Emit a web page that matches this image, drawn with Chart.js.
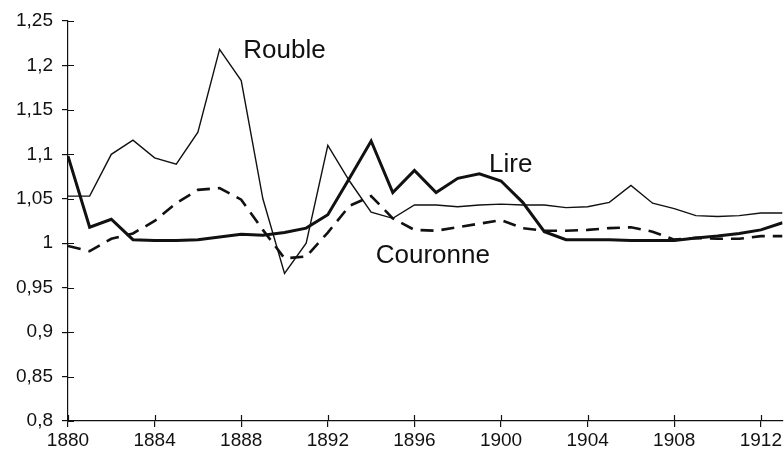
<!DOCTYPE html>
<html>
<head>
<meta charset="utf-8">
<script src="https://cdn.jsdelivr.net/npm/chart.js@4.4.1/dist/chart.umd.min.js"></script>
<style>
  html, body { margin: 0; padding: 0; background: #fff; }
  #wrap { width: 784px; height: 451px; }
</style>
</head>
<body>
<div id="wrap"><canvas id="chart"></canvas></div>
<script>
const years = [];
for (let y = 1880; y <= 1913; y++) years.push(y);
const tickYears = years.filter((y) => (y - 1880) % 4 === 0);

const rouble = [1.053, 1.053, 1.100, 1.116, 1.096, 1.089, 1.125, 1.218, 1.183, 1.050,
  0.966, 1.000, 1.110, 1.070, 1.035, 1.028, 1.043, 1.043, 1.041, 1.043,
  1.044, 1.043, 1.043, 1.040, 1.041, 1.046, 1.065, 1.045, 1.039, 1.031,
  1.030, 1.031, 1.034, 1.034];

const lire = [1.098, 1.018, 1.027, 1.004, 1.003, 1.003, 1.004, 1.007, 1.010, 1.009,
  1.012, 1.017, 1.032, 1.073, 1.115, 1.057, 1.082, 1.057, 1.073, 1.078,
  1.070, 1.046, 1.013, 1.004, 1.004, 1.004, 1.003, 1.003, 1.003, 1.006,
  1.008, 1.011, 1.015, 1.023];

const couronne = [0.997, 0.991, 1.005, 1.011, 1.025, 1.045, 1.060, 1.062, 1.049, 1.015,
  0.983, 0.985, 1.012, 1.042, 1.053, 1.028, 1.015, 1.014, 1.018, 1.022,
  1.026, 1.017, 1.014, 1.014, 1.015, 1.017, 1.018, 1.013, 1.004, 1.006,
  1.005, 1.005, 1.008, 1.008];

// series names written on the chart, placed in data units (baseline)
const seriesLabels = [
  { text: "Rouble", x: 1890.0, y: 1.208 },
  { text: "Lire", x: 1900.45, y: 1.080 },
  { text: "Couronne", x: 1896.85, y: 0.978 }
];

const ink = "#111";
const fontFamily = "'Liberation Sans', Arial, Helvetica, sans-serif";

function points(vals) {
  return years.map((yr, i) => ({ x: yr, y: vals[i] }));
}

// ticks crossing the axes (inner half) + series names
const crossTicks = {
  id: "crossTicks",
  afterDraw(chart) {
    const ctx = chart.ctx;
    const xs = chart.scales.x, ys = chart.scales.y;
    ctx.save();
    ctx.strokeStyle = ink;
    ctx.lineWidth = 1.2;
    ctx.beginPath();
    ys.ticks.forEach((t) => {
      const py = Math.round(ys.getPixelForValue(t.value)) + 0.5;
      ctx.moveTo(xs.left, py);
      ctx.lineTo(xs.left + 6, py);
    });
    xs.ticks.forEach((t) => {
      const px = Math.round(xs.getPixelForValue(t.value)) + 0.5;
      ctx.moveTo(px, ys.bottom);
      ctx.lineTo(px, ys.bottom - 6);
    });
    ctx.stroke();

    ctx.fillStyle = ink;
    ctx.font = "26px " + fontFamily;
    ctx.textAlign = "center";
    ctx.textBaseline = "alphabetic";
    seriesLabels.forEach((l) => {
      ctx.fillText(l.text, xs.getPixelForValue(l.x), ys.getPixelForValue(l.y));
    });
    ctx.restore();
  }
};

new Chart(document.getElementById("chart"), {
  type: "line",
  data: {
    datasets: [
      {
        label: "Rouble",
        data: points(rouble),
        borderColor: ink,
        borderWidth: 1.4,
        pointRadius: 0,
        tension: 0
      },
      {
        label: "Lire",
        data: points(lire),
        borderColor: ink,
        borderWidth: 3,
        pointRadius: 0,
        tension: 0
      },
      {
        label: "Couronne",
        data: points(couronne),
        borderColor: ink,
        borderWidth: 2.6,
        borderDash: [13, 8],
        pointRadius: 0,
        tension: 0
      }
    ]
  },
  options: {
    responsive: true,
    maintainAspectRatio: false,
    animation: false,
    layout: { padding: { top: 21, right: 0, left: 0, bottom: 0 } },
    plugins: {
      legend: { display: false },
      tooltip: { enabled: false }
    },
    scales: {
      x: {
        type: "linear",
        min: 1880,
        max: 1913,
        afterBuildTicks: (scale) => {
          scale.ticks = tickYears.map((v) => ({ value: v }));
        },
        afterFit: (scale) => { scale.height = 30; },
        ticks: {
          color: ink,
          padding: 2,
          maxRotation: 0,
          autoSkip: false,
          font: { family: fontFamily, size: 19 },
          callback: (v) => String(v)
        },
        grid: { drawOnChartArea: false, color: ink, tickLength: 6, lineWidth: 1.2 },
        border: { color: ink, width: 1.2 }
      },
      y: {
        min: 0.8,
        max: 1.25,
        afterFit: (scale) => { scale.width = 68; },
        ticks: {
          stepSize: 0.05,
          color: ink,
          padding: 9,
          font: { family: fontFamily, size: 19 },
          callback: (v) => String(Math.round(v * 100) / 100).replace(".", ",")
        },
        grid: { drawOnChartArea: false, color: ink, tickLength: 6, lineWidth: 1.2 },
        border: { color: ink, width: 1.2 }
      }
    }
  },
  plugins: [crossTicks]
});
</script>
</body>
</html>
